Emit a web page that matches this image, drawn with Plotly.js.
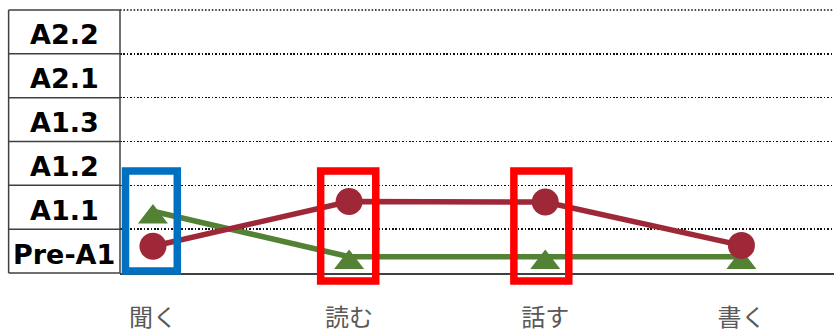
<!DOCTYPE html>
<html><head><meta charset="utf-8">
<script src="https://cdn.plot.ly/plotly-3.0.1.min.js"></script>
<style>html,body{margin:0;padding:0;background:#fff;} #chart{width:834px;height:333px;}</style>
</head><body><div id="chart"></div>
<script>
// ---- data ----
const categories = ['聞く', '読む', '話す', '書く'];
const levelLabels = ['Pre-A1', 'A1.1', 'A1.2', 'A1.3', 'A2.1', 'A2.2'];
const seriesGreen = [1.41, 0.37, 0.37, 0.37];
const seriesRed = [0.61, 1.63, 1.62, 0.63];
const highlightCats = ['聞く', '読む', '話す'];
const highlightColors = ['#0070C0', '#FF0000', '#FF0000'];

// ---- style ----
const GREEN = '#538234';
const RED = '#9E2738';
const BORDER = '#404040';
const GRID = { color: '#111', width: 1.6, dash: '1.6px,1.8px' };
const nLevels = levelLabels.length;
const triShift = 0.13; // visual centering of triangle markers
const boxStyle = {
  left: [-0.140, -0.145, -0.160],
  right: [0.124, 0.136, 0.120],
  bottom: [0.008, -0.030, -0.030],
  top: 0.388,
  width: 7.5
};
const tableLeft = -0.156;

const traces = [
  { x: categories, y: seriesGreen, type: 'scatter', mode: 'lines',
    line: { color: GREEN, width: 5.5 }, yaxis: 'y', cliponaxis: false, hoverinfo: 'skip' },
  { x: categories, y: seriesGreen, type: 'scatter', mode: 'markers',
    marker: { symbol: 'triangle-up', size: 26, color: GREEN }, yaxis: 'y2', cliponaxis: false },
  { x: categories, y: seriesRed, type: 'scatter', mode: 'lines+markers',
    line: { color: RED, width: 5.5 }, marker: { symbol: 'circle', size: 27, color: RED },
    yaxis: 'y3', cliponaxis: false }
];

const shapes = [];
// top dotted gridline (at the plot edge)
shapes.push({ type: 'line', xref: 'paper', yref: 'paper', x0: 0, x1: 1, y0: 1, y1: 1,
  line: { color: GRID.color, width: GRID.width, dash: GRID.dash }, layer: 'below' });
// table borders
for (let i = 0; i <= nLevels; i++) {
  shapes.push({ type: 'line', xref: 'paper', yref: 'paper', x0: tableLeft, x1: 0,
    y0: i / nLevels, y1: i / nLevels, line: { color: BORDER, width: 1.5 } });
}
shapes.push({ type: 'line', xref: 'paper', yref: 'paper', x0: tableLeft, x1: tableLeft,
  y0: 0, y1: 1, line: { color: BORDER, width: 1.5 } });
shapes.push({ type: 'line', xref: 'paper', yref: 'paper', x0: 0, x1: 0,
  y0: 0, y1: 1, line: { color: BORDER, width: 1.5 } });
// highlight boxes
highlightCats.forEach((c, k) => {
  const idx = categories.indexOf(c);
  shapes.push({ type: 'rect', xref: 'x', yref: 'paper',
    x0: idx + boxStyle.left[k], x1: idx + boxStyle.right[k],
    y0: boxStyle.bottom[k], y1: boxStyle.top,
    line: { color: highlightColors[k], width: boxStyle.width }, fillcolor: 'rgba(0,0,0,0)', layer: 'above' });
});

const annotations = levelLabels.map((t, i) => ({
  xref: 'paper', yref: 'y', x: tableLeft / 2, y: i + 0.5, text: t, showarrow: false,
  xanchor: 'center', yanchor: 'middle', yshift: -3,
  font: { family: 'DejaVu Sans', size: 27, color: '#000', weight: 'bold' }
}));

const gridVals = [];
for (let i = 1; i < nLevels; i++) gridVals.push(i);

const layout = {
  width: 834, height: 333,
  margin: { l: 120, r: 0, t: 10, b: 60, pad: 0 },
  paper_bgcolor: '#fff', plot_bgcolor: '#fff',
  showlegend: false,
  xaxis: { type: 'category', range: [-0.168, 3.472], showgrid: false, zeroline: false,
    showline: true, linecolor: BORDER, linewidth: 1.8, ticks: '', ticklabelstandoff: 22,
    tickfont: { family: 'Noto Sans CJK JP', size: 24, color: '#595959' } },
  yaxis: { range: [0, nLevels], tickmode: 'array', tickvals: gridVals, showticklabels: false,
    showgrid: true, gridcolor: GRID.color, gridwidth: GRID.width, griddash: GRID.dash,
    zeroline: false, showline: false, ticks: '' },
  yaxis2: { overlaying: 'y', range: [triShift, nLevels + triShift], visible: false },
  yaxis3: { overlaying: 'y', range: [0, nLevels], visible: false },
  shapes: shapes,
  annotations: annotations
};

Plotly.newPlot('chart', traces, layout, { staticPlot: true, displayModeBar: false });
</script>
</body></html>
